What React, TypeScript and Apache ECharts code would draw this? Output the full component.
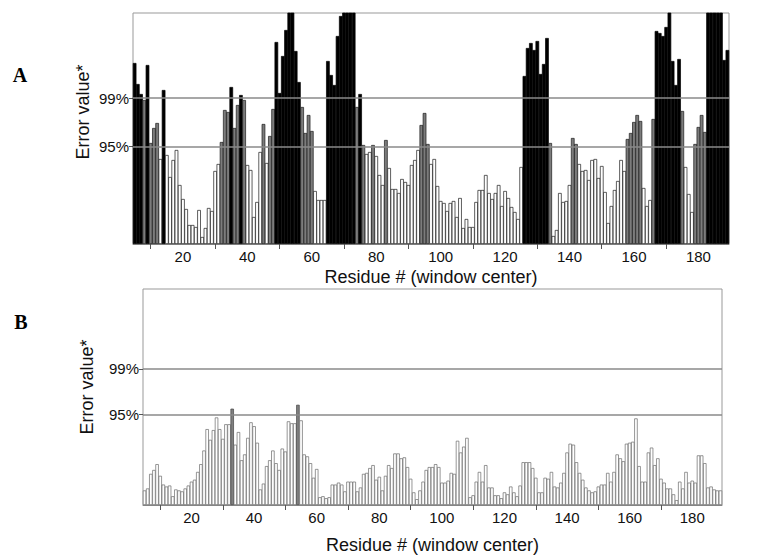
import React, { useEffect, useRef } from "react";
import * as echarts from "echarts";

// ---------- data ----------
const FIRST_RESIDUE = 5;
const X_MIN = 4.5;
const X_MAX = 189.5;
const X_LABELS = [20, 40, 60, 80, 100, 120, 140, 160, 180];
const X_MINOR_TICKS = [10, 30, 50, 70, 90, 110, 130, 150, 170];

// panel A thresholds (error value units)
const A_T95 = 97.7;
const A_T99 = 146;
const A_MAX = 231;
// panel B thresholds
const B_T95 = 93;
const B_T99 = 140;
const B_MAX = 222;

// Panel A: residues 5..189
const A_VALUES = [
  181, 160, 150, 144, 179, 101, 116, 121, 85, 154, 89, 67, 84, 94, 59, 45, 35, 19, 19, 17, 34, 7, 16, 36, 33, 73, 80, 102,
  134, 132, 157, 116, 139, 149, 144, 79, 74, 27, 42, 92, 120, 81, 108, 135, 202, 151,
  188, 214, 240, 240, 193, 162, 137, 111, 129, 113, 53, 44, 44, 44, 183, 169, 159, 208, 228, 240, 240, 240, 240, 137,
  150, 99, 90, 92, 99, 88, 69, 59, 104, 76, 55, 55, 51, 65, 62, 59, 79, 84, 94, 119, 131, 100,
  80, 85, 58, 43, 41, 33, 41, 43, 27, 46, 16, 25, 17, 17, 42, 54, 54, 69, 51, 45, 51, 59, 38, 53, 46, 37, 32, 25, 77,
  168, 196, 201, 194, 203, 170, 180, 206, 101, 8, 14, 51, 42, 43, 59, 106, 100, 80,
  73, 74, 64, 84, 85, 66, 78, 52, 21, 38, 54, 63, 84, 73, 105, 111, 122, 129, 123, 56, 38, 44, 125, 213, 211, 208, 217,
  240, 183, 159, 185, 133, 77, 50, 32, 100, 117, 129, 112, 240, 240, 240, 240, 240, 184, 194,
];

// Panel B: residues 5..189
const B_VALUES = [
  15, 17, 32, 36, 42, 30, 21, 19, 20, 9, 16, 15, 14, 17, 20, 24, 26, 34, 42, 56, 78, 67, 77, 90, 78, 68, 83, 83, 99, 62,
  75, 46, 52, 69, 85, 81, 64, 16, 22, 40, 46, 56, 43, 36, 58, 55, 86,
  84, 84, 103, 87, 52, 50, 43, 28, 37, 8, 9, 7, 8, 21, 21, 23, 21, 14, 24, 24, 24, 14, 18, 32, 33, 38, 41, 26, 29, 15,
  30, 41, 38, 53, 53, 48, 49, 39, 27, 13, 6, 15, 24, 36, 39, 39, 42, 39,
  23, 23, 25, 33, 32, 66, 54, 60, 69, 8, 10, 24, 34, 24, 41, 18, 18, 10, 10, 7, 13, 11, 19, 13, 9, 20, 44, 44, 44, 38,
  28, 13, 13, 28, 27, 34, 19, 18, 23, 33, 54, 63, 62, 44, 33, 26, 18,
  15, 13, 14, 19, 21, 21, 33, 24, 34, 52, 48, 45, 63, 64, 65, 89, 40, 24, 24, 54, 59, 41, 48, 27, 23, 17, 17, 11, 5, 24,
  17, 34, 23, 25, 23, 51, 51, 43, 18, 19, 16, 15, 15,
];

// ---------- layout ----------
const FONT = '"Liberation Sans", Arial, Helvetica, sans-serif';
const SERIF = '"Liberation Serif", "Times New Roman", serif';
const GA = { left: 133, top: 13, width: 596, height: 231 };
const GB = { left: 143, top: 289, width: 579, height: 222 };

function xAxisFor(gridIndex: number, nameGap: number) {
  return {
    type: "value",
    gridIndex,
    min: X_MIN,
    max: X_MAX,
    name: "Residue # (window center)",
    nameLocation: "middle",
    nameGap,
    nameTextStyle: { fontSize: 18, color: "#111", fontFamily: FONT },
    axisLine: { show: true, lineStyle: { color: "#888", width: 1 } },
    axisTick: { show: true, customValues: X_MINOR_TICKS, length: 5, lineStyle: { color: "#555", width: 1 } },
    axisLabel: { show: true, customValues: X_LABELS, fontSize: 15, color: "#111", margin: 5, fontFamily: FONT },
    splitLine: { show: false },
  };
}

function yAxisFor(gridIndex: number, max: number, t95: number, t99: number) {
  return {
    type: "value",
    gridIndex,
    min: 0,
    max,
    axisLine: { show: false },
    axisTick: { show: true, customValues: [t95, t99], length: 4, lineStyle: { color: "#555", width: 1 } },
    axisLabel: {
      show: true,
      customValues: [t95, t99],
      formatter: (v: number) => (v > (t95 + t99) / 2 ? "99%" : "95%"),
      fontSize: 15,
      color: "#111",
      margin: 4,
      fontFamily: FONT,
    },
    splitLine: { show: false },
  };
}

function thresholdSeries(axisIndex: number, t95: number, t99: number) {
  return {
    type: "line",
    xAxisIndex: axisIndex,
    yAxisIndex: axisIndex,
    data: [],
    silent: true,
    z: 1,
    markLine: {
      silent: true,
      symbol: "none",
      label: { show: false },
      lineStyle: { color: "#8a8a8a", width: 1.5, type: "solid" },
      data: [{ yAxis: t95 }, { yAxis: t99 }],
    },
  };
}

export default function App() {
  const ref = useRef<HTMLDivElement>(null);

  useEffect(() => {
    document.body.style.margin = "0";
    if (!ref.current) return;
    const chart = echarts.init(ref.current, undefined, { renderer: "svg" });

    const aData = A_VALUES.map((v, i) => {
      const fill = v > A_T99 ? "#000" : v > A_T95 ? "#7c7c7c" : "#fff";
      return {
        value: [FIRST_RESIDUE + i, v],
        itemStyle: { color: fill, borderColor: v > A_T99 ? "#000" : "#1a1a1a" },
      };
    });
    const bData = B_VALUES.map((v, i) => {
      const fill = v > B_T99 ? "#000" : v > B_T95 ? "#808080" : "#fff";
      return {
        value: [FIRST_RESIDUE + i, v],
        itemStyle: { color: fill, borderColor: v > B_T95 ? "#444" : "#6a6a6a" },
      };
    });

    const option = {
      animation: false,
      backgroundColor: "#fff",
      grid: [
        { ...GA, show: true, borderColor: "#999", borderWidth: 1, backgroundColor: "transparent" },
        { ...GB, show: true, borderColor: "#999", borderWidth: 1, backgroundColor: "transparent" },
      ],
      xAxis: [xAxisFor(0, 24), xAxisFor(1, 31)],
      yAxis: [yAxisFor(0, A_MAX, A_T95, A_T99), yAxisFor(1, B_MAX, B_T95, B_T99)],
      series: [
        thresholdSeries(0, A_T95, A_T99),
        thresholdSeries(1, B_T95, B_T99),
        {
          type: "bar",
          xAxisIndex: 0,
          yAxisIndex: 0,
          data: aData,
          barWidth: GA.width / (X_MAX - X_MIN) + 0.4,
          z: 3,
          itemStyle: { borderWidth: 0.7 },
        },
        {
          type: "bar",
          xAxisIndex: 1,
          yAxisIndex: 1,
          data: bData,
          barWidth: GB.width / (X_MAX - X_MIN) + 0.3,
          z: 3,
          itemStyle: { borderWidth: 0.7 },
        },
      ],
      graphic: [
        {
          type: "text",
          x: 20,
          y: 75,
          style: { text: "A", font: `bold 20px ${SERIF}`, fill: "#000", align: "center", verticalAlign: "middle" },
        },
        {
          type: "text",
          x: 21,
          y: 322,
          style: { text: "B", font: `bold 20px ${SERIF}`, fill: "#000", align: "center", verticalAlign: "middle" },
        },
        {
          type: "text",
          x: 83,
          y: 112,
          rotation: Math.PI / 2,
          style: { text: "Error value*", font: `18px ${FONT}`, fill: "#111", align: "center", verticalAlign: "middle" },
        },
        {
          type: "text",
          x: 87,
          y: 387,
          rotation: Math.PI / 2,
          style: { text: "Error value*", font: `18px ${FONT}`, fill: "#111", align: "center", verticalAlign: "middle" },
        },
      ],
    };

    chart.setOption(option as any);
    return () => chart.dispose();
  }, []);

  return <div ref={ref} style={{ width: 757, height: 555 }} />;
}
